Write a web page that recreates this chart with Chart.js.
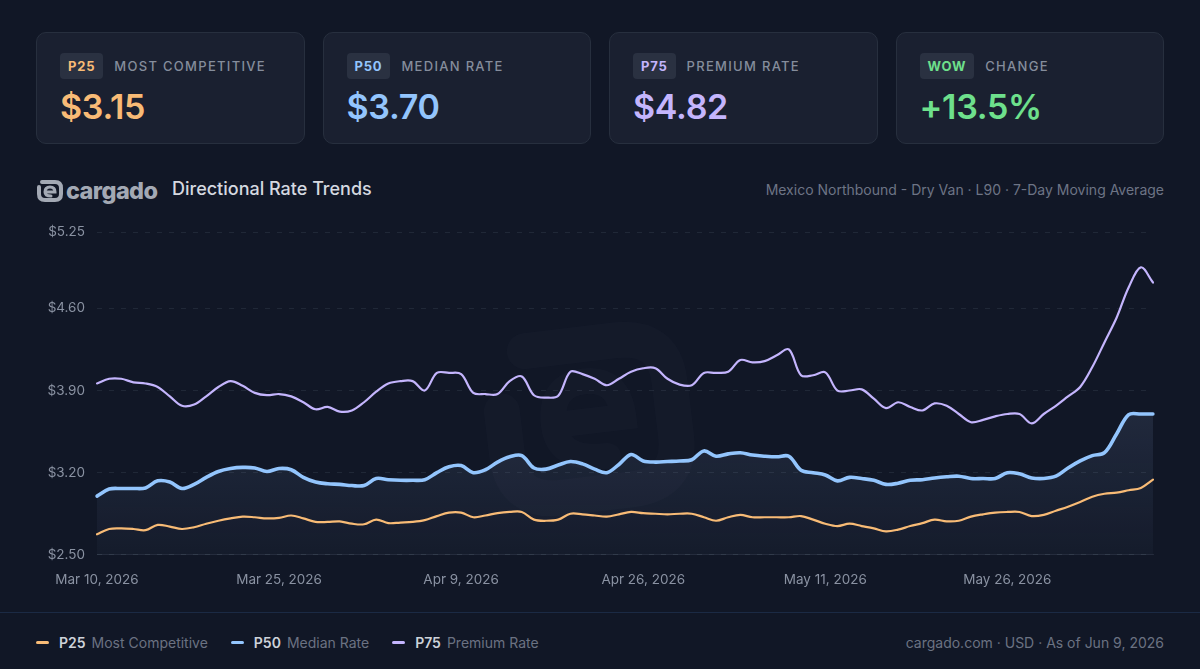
<!DOCTYPE html>
<html>
<head>
<meta charset="utf-8">
<script src="https://cdn.jsdelivr.net/npm/chart.js@4.4.1/dist/chart.umd.min.js"></script>
<style>
  html, body { margin: 0; padding: 0; }
  body {
    width: 1200px; height: 669px; overflow: hidden;
    background: #111726;
    font-family: Inter, "Noto Sans", sans-serif;
    position: relative;
  }
  .cards { position: absolute; left: 36px; top: 32px; width: 1128px; display: flex; gap: 18px; }
  .card {
    flex: 1; height: 112px; box-sizing: border-box;
    background: #1a2030; border: 1px solid #272f3e; border-radius: 10px;
    padding: 20px 0 0 23px;
  }
  .top { display: flex; align-items: center; height: 26px; }
  .badge {
    background: #2a3141; border-radius: 4px; height: 26px; line-height: 26px;
    padding: 0 8px; font-size: 13px; font-weight: 700; letter-spacing: 0.8px;
  }
  .lbl { margin-left: 11px; font-size: 13px; font-weight: 500; letter-spacing: 1.3px; color: #858d9c; }
  .val { margin-top: 8px; font-size: 34px; font-weight: 600; letter-spacing: -0.3px; line-height: 40px; }
  .head { position: absolute; left: 36px; top: 172px; width: 1128px; height: 34px; }
  .logo { position: absolute; left: 0; top: 4px; display: flex; align-items: center; }
  .logo span { font-size: 23.5px; font-weight: 800; color: #a3a9b4; letter-spacing: -0.6px; margin-left: 2px; }
  .title { position: absolute; left: 136px; top: 6px; font-size: 18px; font-weight: 500; color: #d5d9e0; }
  .sub { position: absolute; right: 0; top: 9px; font-size: 14px; color: #6d7485; }
  .wrap { position: absolute; left: 36px; top: 212px; width: 1128px; height: 385px; }
  .sep { position: absolute; left: 0; top: 612px; width: 1200px; height: 1px; background: #1b2a44; }
  .legend { position: absolute; left: 36px; top: 634px; display: flex; align-items: center; font-size: 14px; }
  .item { display: flex; align-items: center; margin-right: 23px; }
  .sw { width: 13px; height: 3px; border-radius: 2px; margin-right: 10px; }
  .item b { color: #cdd2da; font-weight: 600; margin-right: 6px; }
  .item i { font-style: normal; color: #6b7282; }
  .foot { position: absolute; right: 36px; top: 634px; font-size: 14px; color: #6b7282; }
</style>
</head>
<body>
<div class="cards">
  <div class="card"><div class="top"><div class="badge" style="color:#f8bb76">P25</div><div class="lbl">MOST COMPETITIVE</div></div><div class="val" style="color:#f8bb76">$3.15</div></div>
  <div class="card"><div class="top"><div class="badge" style="color:#93c5fd">P50</div><div class="lbl">MEDIAN RATE</div></div><div class="val" style="color:#93c5fd">$3.70</div></div>
  <div class="card"><div class="top"><div class="badge" style="color:#c4b5fd">P75</div><div class="lbl">PREMIUM RATE</div></div><div class="val" style="color:#c4b5fd">$4.82</div></div>
  <div class="card"><div class="top"><div class="badge" style="color:#6ee08c">WOW</div><div class="lbl">CHANGE</div></div><div class="val" style="color:#6ee08c">+13.5%</div></div>
</div>

<div class="head">
  <div class="logo">
    <svg width="28" height="24" viewBox="0 0 28 24">
      <path d="M6 3 H19 Q25 3 25 9 V15 Q25 21 19 21 H9 Q3 21 3 15 V8" fill="none" stroke="#a3a9b4" stroke-width="4" stroke-linecap="round"/>
      <path d="M9 13 H19 Q19 8 14 8 Q9 8 9 13 Q9 17 15 17" fill="none" stroke="#a3a9b4" stroke-width="3" stroke-linecap="round"/>
    </svg>
    <span>cargado</span>
  </div>
  <div class="title">Directional Rate Trends</div>
  <div class="sub">Mexico Northbound - Dry Van · L90 · 7-Day Moving Average</div>
</div>

<div class="wrap"><canvas id="c"></canvas></div>
<div class="sep"></div>

<div class="legend">
  <div class="item"><div class="sw" style="background:#f8bb76"></div><b>P25</b><i>Most Competitive</i></div>
  <div class="item"><div class="sw" style="background:#93c5fd"></div><b>P50</b><i>Median Rate</i></div>
  <div class="item"><div class="sw" style="background:#c4b5fd"></div><b>P75</b><i>Premium Rate</i></div>
</div>
<div class="foot">cargado.com · USD · As of Jun 9, 2026</div>

<script>
const dates = [
  'Mar 10, 2026','Mar 11, 2026','Mar 12, 2026','Mar 13, 2026','Mar 14, 2026','Mar 15, 2026','Mar 16, 2026','Mar 17, 2026',
  'Mar 18, 2026','Mar 19, 2026','Mar 20, 2026','Mar 21, 2026','Mar 22, 2026','Mar 23, 2026','Mar 24, 2026','Mar 25, 2026',
  'Mar 26, 2026','Mar 27, 2026','Mar 28, 2026','Mar 29, 2026','Mar 30, 2026','Mar 31, 2026',
  'Apr 1, 2026','Apr 2, 2026','Apr 3, 2026','Apr 4, 2026','Apr 5, 2026','Apr 6, 2026','Apr 7, 2026','Apr 8, 2026',
  'Apr 9, 2026','Apr 10, 2026','Apr 11, 2026','Apr 13, 2026','Apr 14, 2026','Apr 15, 2026','Apr 16, 2026','Apr 17, 2026',
  'Apr 18, 2026','Apr 20, 2026','Apr 21, 2026','Apr 22, 2026','Apr 23, 2026','Apr 24, 2026','Apr 25, 2026','Apr 26, 2026',
  'Apr 27, 2026','Apr 28, 2026','Apr 29, 2026','Apr 30, 2026',
  'May 1, 2026','May 2, 2026','May 3, 2026','May 4, 2026','May 5, 2026','May 6, 2026','May 7, 2026','May 8, 2026',
  'May 9, 2026','May 10, 2026','May 11, 2026','May 12, 2026','May 13, 2026','May 14, 2026','May 15, 2026','May 16, 2026',
  'May 17, 2026','May 18, 2026','May 19, 2026','May 20, 2026','May 21, 2026','May 22, 2026','May 23, 2026','May 24, 2026',
  'May 25, 2026','May 26, 2026','May 27, 2026','May 28, 2026','May 29, 2026','May 30, 2026',
  'Jun 1, 2026','Jun 2, 2026','Jun 3, 2026','Jun 4, 2026','Jun 5, 2026','Jun 6, 2026','Jun 8, 2026','Jun 9, 2026'
];

const p25 = [
  2.675, 2.72, 2.725, 2.72, 2.71, 2.755, 2.74, 2.72, 2.735, 2.765,
  2.79, 2.81, 2.825, 2.82, 2.81, 2.815, 2.835, 2.81, 2.78, 2.78,
  2.785, 2.765, 2.76, 2.80, 2.77, 2.775, 2.78, 2.795, 2.83, 2.86,
  2.86, 2.82, 2.835, 2.855, 2.865, 2.865, 2.80, 2.79, 2.80, 2.85,
  2.845, 2.835, 2.825, 2.845, 2.865, 2.855, 2.85, 2.845, 2.85, 2.85,
  2.82, 2.79, 2.82, 2.84, 2.82, 2.82, 2.82, 2.82, 2.83, 2.80,
  2.765, 2.745, 2.765, 2.745, 2.725, 2.70, 2.715, 2.745, 2.77, 2.80,
  2.785, 2.79, 2.825, 2.845, 2.86, 2.865, 2.865, 2.83, 2.84, 2.875,
  2.91, 2.95, 2.995, 3.02, 3.03, 3.05, 3.07, 3.14
];

const p50 = [
  3.00, 3.06, 3.065, 3.065, 3.07, 3.13, 3.12, 3.065, 3.10, 3.16,
  3.21, 3.235, 3.245, 3.24, 3.21, 3.235, 3.225, 3.16, 3.12, 3.105,
  3.10, 3.09, 3.09, 3.15, 3.14, 3.135, 3.135, 3.14, 3.20, 3.25,
  3.26, 3.20, 3.225, 3.29, 3.335, 3.345, 3.24, 3.23, 3.265, 3.295,
  3.275, 3.23, 3.20, 3.27, 3.355, 3.30, 3.29, 3.295, 3.30, 3.31,
  3.385, 3.34, 3.36, 3.37, 3.35, 3.34, 3.335, 3.34, 3.22, 3.20,
  3.18, 3.13, 3.16, 3.15, 3.135, 3.10, 3.11, 3.135, 3.14, 3.155,
  3.165, 3.17, 3.15, 3.15, 3.15, 3.20, 3.19, 3.155, 3.15, 3.17,
  3.24, 3.30, 3.345, 3.37, 3.53, 3.695, 3.70, 3.70
];

const p75 = [
  3.96, 4.00, 4.00, 3.97, 3.96, 3.93, 3.85, 3.77, 3.78, 3.85,
  3.93, 3.98, 3.94, 3.88, 3.86, 3.87, 3.85, 3.80, 3.74, 3.76,
  3.72, 3.73, 3.80, 3.89, 3.96, 3.98, 3.98, 3.90, 4.05, 4.05,
  4.04, 3.88, 3.87, 3.87, 3.98, 4.02, 3.86, 3.84, 3.855, 4.06,
  4.04, 4.00, 3.945, 4.00, 4.06, 4.09, 4.09, 4.00, 3.95, 3.945,
  4.05, 4.05, 4.06, 4.16, 4.14, 4.15, 4.20, 4.25, 4.03, 4.03,
  4.055, 3.90, 3.90, 3.91, 3.83, 3.75, 3.80, 3.76, 3.73, 3.79,
  3.77, 3.70, 3.63, 3.65, 3.68, 3.70, 3.70, 3.62, 3.70, 3.77,
  3.85, 3.93, 4.10, 4.31, 4.52, 4.78, 4.95, 4.82
];

const yTicks = [2.50, 3.20, 3.90, 4.60, 5.25];
const tickEvery = 15;

// faint logo mark behind the lines
const watermark = {
  id: 'watermark',
  beforeDatasetsDraw(chart) {
    const { ctx, chartArea: a } = chart;
    const cx = a.left + a.width * 0.465, cy = a.top + a.height * 0.57;
    ctx.save();
    ctx.translate(cx, cy);
    ctx.rotate(-0.12);
    ctx.strokeStyle = 'rgba(148,163,184,0.028)';
    ctx.lineCap = 'round';
    ctx.lineWidth = 36;
    ctx.beginPath();
    ctx.moveTo(-55, -72);
    ctx.lineTo(35, -72);
    ctx.quadraticCurveTo(85, -72, 85, -25);
    ctx.lineTo(85, 30);
    ctx.quadraticCurveTo(85, 78, 35, 78);
    ctx.lineTo(-35, 78);
    ctx.quadraticCurveTo(-85, 78, -85, 30);
    ctx.lineTo(-85, -15);
    ctx.stroke();
    ctx.lineWidth = 26;
    ctx.beginPath();
    ctx.moveTo(-30, 5);
    ctx.lineTo(35, 5);
    ctx.quadraticCurveTo(35, -35, 0, -35);
    ctx.quadraticCurveTo(-35, -35, -35, 5);
    ctx.quadraticCurveTo(-35, 42, 15, 42);
    ctx.stroke();
    ctx.restore();
  }
};

const ctx = document.getElementById('c').getContext('2d');

new Chart(ctx, {
  type: 'line',
  data: {
    labels: dates,
    datasets: [
      {
        label: 'P75 Premium Rate',
        data: p75,
        borderColor: '#c4b5fd',
        borderWidth: 2.2,
        fill: false,
        order: 1
      },
      {
        label: 'P50 Median Rate',
        data: p50,
        borderColor: '#93c5fd',
        borderWidth: 3.6,
        fill: 'start',
        backgroundColor: (c) => {
          const a = c.chart.chartArea;
          if (!a) return 'rgba(147,197,253,0.06)';
          const g = c.chart.ctx.createLinearGradient(0, a.top + a.height * 0.55, 0, a.bottom);
          g.addColorStop(0, 'rgba(148,178,230,0.12)');
          g.addColorStop(1, 'rgba(148,178,230,0.03)');
          return g;
        },
        order: 2
      },
      {
        label: 'P25 Most Competitive',
        data: p25,
        borderColor: '#f8bb76',
        borderWidth: 2.2,
        fill: false,
        order: 0
      }
    ]
  },
  options: {
    responsive: true,
    maintainAspectRatio: false,
    animation: false,
    layout: { padding: { top: 6, right: 11, bottom: 0, left: 0 } },
    elements: {
      point: { radius: 0 },
      line: { tension: 0.35, borderCapStyle: 'round', borderJoinStyle: 'round' }
    },
    plugins: {
      legend: { display: false },
      tooltip: { enabled: false }
    },
    scales: {
      x: {
        grid: { display: false },
        border: { display: true, color: 'rgba(148,163,184,0.14)' },
        ticks: {
          autoSkip: false,
          maxRotation: 0,
          padding: 9,
          color: '#8a92a2',
          font: { family: 'Inter', size: 13.5 },
          callback: function (v, i) { return i % tickEvery === 0 ? this.getLabelForValue(v) : null; }
        }
      },
      y: {
        min: yTicks[0],
        max: yTicks[yTicks.length - 1],
        afterBuildTicks: (s) => { s.ticks = yTicks.map(v => ({ value: v })); },
        afterFit: (s) => { s.width = 61; },
        grid: { color: 'rgba(148,163,184,0.12)', drawTicks: false, lineWidth: 1 },
        border: { display: false, dash: [5, 7] },
        ticks: {
          padding: 12,
          color: '#8a92a2',
          font: { family: 'Inter', size: 13.5 },
          callback: (v) => '$' + Number(v).toFixed(2)
        }
      }
    }
  },
  plugins: [watermark]
});
</script>
</body>
</html>
